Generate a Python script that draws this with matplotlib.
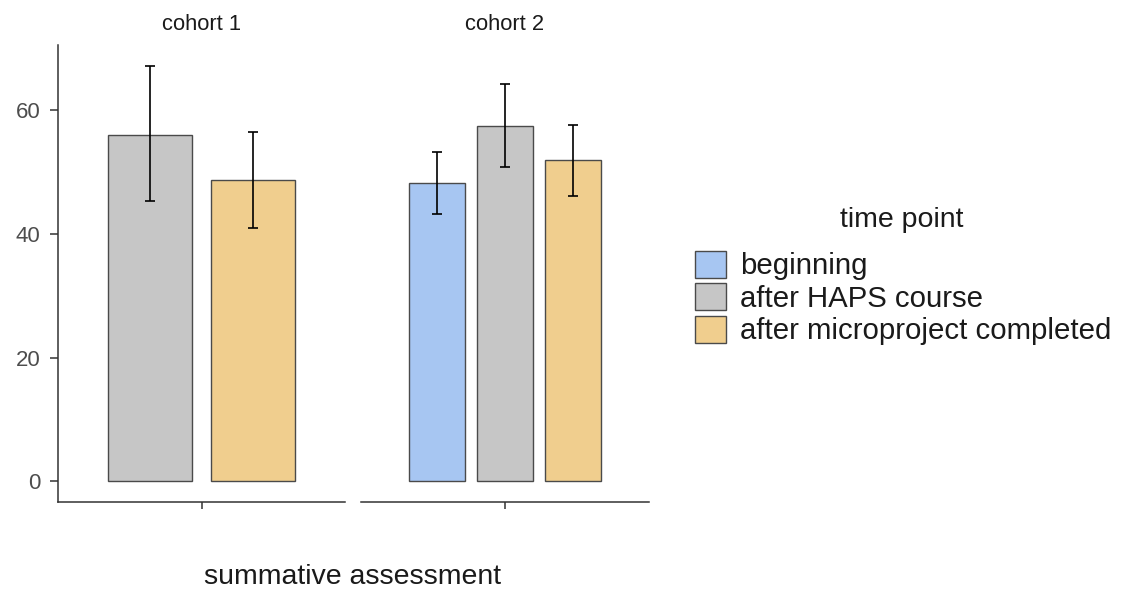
import matplotlib
matplotlib.use("Agg")
import matplotlib.pyplot as plt
from matplotlib.patches import Patch

plt.rcParams['font.family'] = ['Liberation Sans', 'DejaVu Sans']

# summary values per cohort (mean and error bar limits)
cohorts = ['cohort 1', 'cohort 2']
groups = {
    'cohort 1': ['after HAPS course', 'after microproject completed'],
    'cohort 2': ['beginning', 'after HAPS course', 'after microproject completed'],
}
means = {
    'cohort 1': [56.0, 48.7],
    'cohort 2': [48.2, 57.5, 52.0],
}
lower = {
    'cohort 1': [45.3, 41.0],
    'cohort 2': [43.2, 50.8, 46.2],
}
upper = {
    'cohort 1': [67.1, 56.5],
    'cohort 2': [53.2, 64.2, 57.7],
}

time_points = ['beginning', 'after HAPS course', 'after microproject completed']
fill = {'beginning': '#A7C6F2',
        'after HAPS course': '#C6C6C6',
        'after microproject completed': '#F0CE8E'}

W, H = 1123, 594
fig = plt.figure(figsize=(W / 100, H / 100), dpi=100)

top_px, bot_px = 45, 502
panels = [(58, 345), (361, 649)]
ymin, ymax = -3.36, 70.56

edge = '#4a4a4a'
axis_col = '#333333'
text_col = '#4D4D4D'

for i, coh in enumerate(cohorts):
    x0, x1 = panels[i]
    ax = fig.add_axes([x0 / W, 1 - bot_px / H, (x1 - x0) / W, (bot_px - top_px) / H])
    labs = groups[coh]
    n = len(labs)
    slot = 0.855 / n
    bw = slot * 0.82
    for j, lab in enumerate(labs):
        xc = 1 + (j - (n - 1) / 2) * slot
        m = means[coh][j]
        ax.bar(xc, m, width=bw, color=fill[lab], edgecolor=edge, linewidth=1.0, zorder=2)
        ax.errorbar(xc, m, yerr=[[m - lower[coh][j]], [upper[coh][j] - m]],
                    fmt='none', ecolor='black', elinewidth=1.2, capsize=3.5,
                    capthick=1.2, zorder=3)
    ax.set_xlim(0.4, 1.6)
    ax.set_ylim(ymin, ymax)
    ax.set_xticks([1])
    ax.set_xticklabels([''])
    for s in ['top', 'right']:
        ax.spines[s].set_visible(False)
    ax.spines['bottom'].set_color(axis_col)
    ax.spines['bottom'].set_linewidth(1.1)
    ax.tick_params(axis='x', length=5, width=1.1, color=axis_col)
    if i == 0:
        ax.spines['left'].set_color(axis_col)
        ax.spines['left'].set_linewidth(1.1)
        ax.set_yticks([0, 20, 40, 60])
        ax.tick_params(axis='y', length=6, width=1.1, color=axis_col,
                       labelsize=16, labelcolor=text_col, pad=6.5)
    else:
        ax.spines['left'].set_visible(False)
        ax.set_yticks([])
    ax.set_facecolor('none')
    ax.text(0.5, 1 + 20 / (bot_px - top_px), coh, transform=ax.transAxes,
            ha='center', va='center', fontsize=15.8, color='#1A1A1A')

fig.text(353 / W, 1 - 577 / H, 'summative assessment', ha='center', va='center',
         fontsize=20.5, color='#1A1A1A')

# legend: title placed on its own, keys below it
fig.text(902 / W, 1 - 220 / H, 'time point', ha='center', va='center',
         fontsize=20.5, color='#1A1A1A')
handles = [Patch(facecolor=fill[t], edgecolor=edge, linewidth=1.0) for t in time_points]
leg = fig.legend(handles, time_points, loc='upper left',
                 bbox_to_anchor=(695 / W, 1 - 251 / H), frameon=False,
                 fontsize=21.2, handlelength=1.04, handleheight=1.02,
                 handletextpad=0.5, labelspacing=0.1, borderaxespad=0, borderpad=0)
for t in leg.get_texts():
    t.set_color('#1A1A1A')

fig.savefig('out.png', dpi=100)
